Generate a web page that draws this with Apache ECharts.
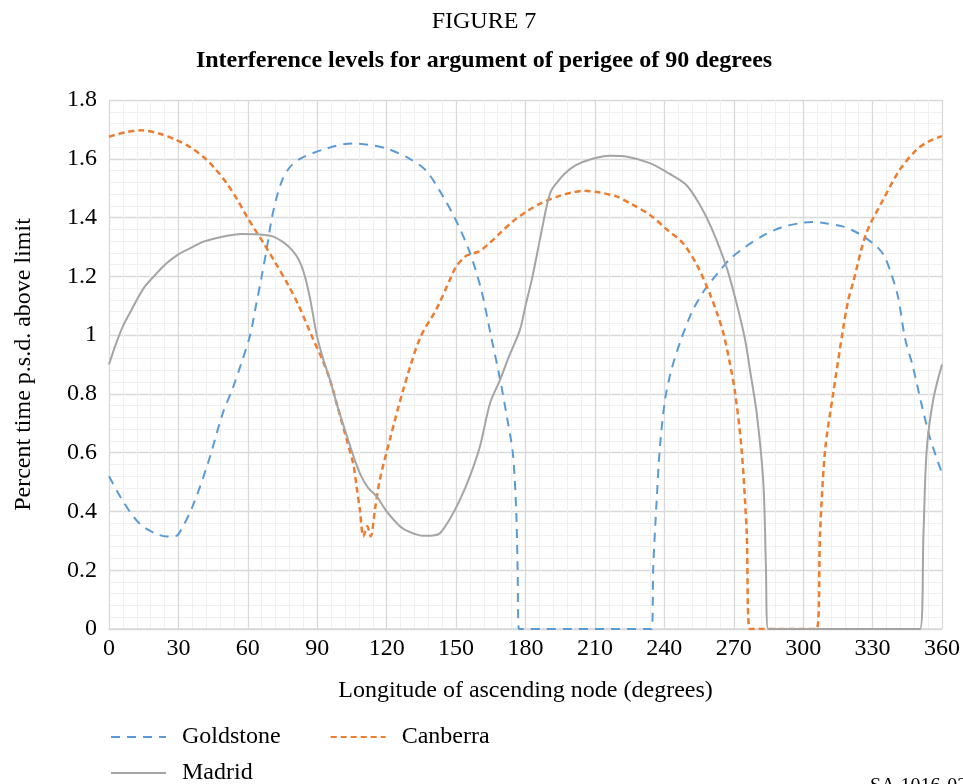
<!DOCTYPE html>
<html>
<head>
<meta charset="utf-8">
<script src="https://cdn.jsdelivr.net/npm/echarts@6/dist/echarts.min.js"></script>
<style>
  html, body { margin: 0; padding: 0; background: #fff; }
  #chart { width: 963px; height: 784px; }
</style>
</head>
<body>
<div id="chart"></div>
<script>
// longitude of ascending node (deg), percent time above limit
var goldstone = [
    [0, 0.52], [6, 0.435], [13, 0.36], [20, 0.325], [25, 0.315], [28, 0.315], [30, 0.322],
    [36, 0.415], [43, 0.57], [49, 0.73], [53.5, 0.82], [57, 0.9], [61, 1.0], [63.5, 1.1],
    [66, 1.2], [68.3, 1.3], [70.4, 1.4], [72.5, 1.47], [75, 1.53], [78, 1.57], [82.5, 1.6], [94, 1.635],
    [105, 1.652], [112, 1.648], [120, 1.635], [130, 1.6], [137, 1.56], [143, 1.49],
    [150, 1.39], [156, 1.28], [161, 1.15], [165, 1.0], [169, 0.85], [172, 0.72],
    [174.5, 0.6], [176, 0.4], [176.6, 0.2], [177.2, 0], [234.5, 0], [235.2, 0.21],
    [236.7, 0.44], [238.1, 0.62], [240.3, 0.78], [243, 0.88], [247, 0.98], [252, 1.08],
    [257.5, 1.155], [263, 1.21], [268.5, 1.26], [275, 1.3], [283, 1.34], [291, 1.368],
    [298, 1.38], [304, 1.385], [310, 1.38], [317, 1.37], [323, 1.35], [328, 1.325],
    [332, 1.3], [335, 1.27], [338, 1.21], [341, 1.13], [344, 0.99], [347.5, 0.89],
    [351, 0.77], [355, 0.645], [360, 0.53]
];

var canberra = [
    [0, 1.675], [7, 1.69], [14, 1.697], [22, 1.685], [29, 1.664], [35, 1.64],
    [41, 1.605], [46, 1.565], [51, 1.515], [55.5, 1.46], [59.6, 1.403], [63, 1.36],
    [66.8, 1.313], [72, 1.245], [77, 1.177], [82, 1.1], [88, 0.99], [92, 0.92],
    [95.5, 0.848], [99, 0.75], [102.7, 0.645], [105.6, 0.56], [107, 0.485], [108.5, 0.4],
    [109.9, 0.315], [111.6, 0.35], [113.1, 0.315], [115, 0.41], [117.1, 0.51],
    [121.4, 0.645], [127.2, 0.815], [134.4, 0.99], [141.6, 1.09], [147.4, 1.19],
    [150, 1.233], [154, 1.268], [156, 1.275], [160, 1.285], [164, 1.31], [169, 1.347],
    [175, 1.39], [180.4, 1.42], [187, 1.45], [194.7, 1.474], [200, 1.485], [205, 1.491],
    [212, 1.485], [219.3, 1.472], [226, 1.445], [233.8, 1.409], [241, 1.36], [248, 1.313],
    [254, 1.24], [259.7, 1.14], [263, 1.07], [265.5, 1.007], [268.3, 0.905], [270.6, 0.803],
    [273.4, 0.61], [275.6, 0.327], [277, 0], [305.8, 0], [307.3, 0.327], [309.5, 0.61],
    [313, 0.803], [317.2, 1.018], [319.5, 1.12], [321.5, 1.177], [327.3, 1.347],
    [334.5, 1.46], [341.7, 1.562], [348.9, 1.63], [354, 1.658], [360, 1.677]
];

var madrid = [
    [0, 0.9], [3, 0.97], [6, 1.03], [10, 1.09], [15, 1.16], [20, 1.205], [25, 1.245],
    [30, 1.275], [35, 1.295], [40.8, 1.318], [49, 1.335], [57.3, 1.344], [64, 1.343], [71, 1.335],
    [76, 1.312], [79, 1.29], [81, 1.27], [83, 1.24], [85, 1.19], [87, 1.12],
    [89.8, 1.0], [92.5, 0.92], [95.5, 0.848], [99, 0.75], [102.7, 0.66], [106, 0.58],
    [109, 0.52], [112, 0.48], [115.7, 0.451], [120, 0.4], [125.8, 0.349], [130, 0.33],
    [135.8, 0.317], [140, 0.318], [143, 0.326], [147, 0.37], [151.7, 0.44], [156, 0.52],
    [160.3, 0.621], [164.7, 0.769], [169, 0.848], [173, 0.93], [177.6, 1.018], [180, 1.1],
    [182.7, 1.188], [186.2, 1.324], [189.1, 1.437], [191, 1.49], [193.4, 1.517],
    [197, 1.55], [202, 1.579], [209, 1.6], [216.4, 1.61], [224, 1.607], [233.8, 1.585],
    [242, 1.55], [249.5, 1.511], [255.4, 1.443], [260.4, 1.364], [266.8, 1.233],
    [271.2, 1.109], [274.9, 0.984], [277, 0.882], [279.9, 0.735], [282.8, 0.497],
    [283.9, 0.213], [284.9, 0], [350.5, 0], [352, 0.327], [353.4, 0.61], [356.2, 0.78],
    [360, 0.9]
];

var seriesNames = ['Goldstone', 'Canberra', 'Madrid'];

var serif = '"Liberation Serif", "Times New Roman", serif';

var chart = echarts.init(document.getElementById('chart'));

var legendText = { fontFamily: serif, fontSize: 24, color: '#000', padding: [0, 0, 0, 11] };

var option = {
    backgroundColor: '#fff',
    animation: false,
    textStyle: { fontFamily: serif, color: '#000' },
    title: [{
        text: 'FIGURE 7',
        left: 479,
        top: 5,
        textAlign: 'center',
        textStyle: { fontFamily: serif, fontSize: 24, fontWeight: 'normal', color: '#000' }
    }, {
        text: 'Interference levels for argument of perigee of 90 degrees',
        left: 479,
        top: 44,
        textAlign: 'center',
        textStyle: { fontFamily: serif, fontSize: 24, fontWeight: 'bold', color: '#000' }
    }],
    legend: [{
        data: [seriesNames[0], seriesNames[1]],
        left: 105,
        top: 720,
        itemWidth: 55,
        itemHeight: 20,
        itemGap: 49,
        itemStyle: { opacity: 0 },
        textStyle: legendText
    }, {
        data: [seriesNames[2]],
        left: 105,
        top: 756,
        itemWidth: 55,
        itemHeight: 20,
        itemStyle: { opacity: 0 },
        textStyle: legendText
    }],
    grid: { left: 109, right: 21, top: 100, bottom: 155 },
    xAxis: {
        type: 'value',
        min: 0,
        max: 360,
        interval: 30,
        name: 'Longitude of ascending node (degrees)',
        nameLocation: 'middle',
        nameGap: 50,
        nameTextStyle: { fontFamily: serif, fontSize: 24, color: '#000' },
        axisLine: { show: true, lineStyle: { color: '#d9d9d9', width: 1.5 } },
        axisTick: { show: false },
        axisLabel: { fontFamily: serif, fontSize: 24, color: '#000', margin: 8 },
        splitLine: { show: true, lineStyle: { color: '#d9d9d9', width: 1.3 } },
        minorTick: { show: false, splitNumber: 5 },
        minorSplitLine: { show: true, lineStyle: { color: '#f0f0f0', width: 1 } }
    },
    yAxis: {
        type: 'value',
        min: 0,
        max: 1.8,
        interval: 0.2,
        name: 'Percent time p.s.d. above limit',
        nameLocation: 'middle',
        nameGap: 73,
        nameTextStyle: { fontFamily: serif, fontSize: 24, color: '#000' },
        axisLine: { show: false },
        axisTick: { show: false },
        axisLabel: {
            fontFamily: serif, fontSize: 24, color: '#000', margin: 12,
            formatter: function (v) { return String(Math.round(v * 10) / 10); }
        },
        splitLine: { show: true, lineStyle: { color: '#d9d9d9', width: 1.3 } },
        minorTick: { show: false, splitNumber: 5 },
        minorSplitLine: { show: true, lineStyle: { color: '#f0f0f0', width: 1 } }
    },
    series: [{
        name: seriesNames[0],
        type: 'line',
        data: goldstone,
        symbol: 'none',
        smooth: 0.3,
        color: '#5b9bd5',
        lineStyle: { color: '#5b9bd5', width: 2, type: [9, 7] },
        z: 3
    }, {
        name: seriesNames[1],
        type: 'line',
        data: canberra,
        symbol: 'none',
        smooth: 0.3,
        color: '#ed7d31',
        lineStyle: { color: '#ed7d31', width: 2.5, type: [6, 4] },
        z: 4
    }, {
        name: seriesNames[2],
        type: 'line',
        data: madrid,
        symbol: 'none',
        smooth: 0.3,
        color: '#a5a5a5',
        lineStyle: { color: '#a5a5a5', width: 2 },
        z: 5
    }],
    graphic: [{
        type: 'text',
        left: 870,
        top: 777,
        style: { text: 'SA.1016-02', font: '20px ' + serif, fill: '#000' }
    }]
};

chart.setOption(option);
</script>
</body>
</html>
